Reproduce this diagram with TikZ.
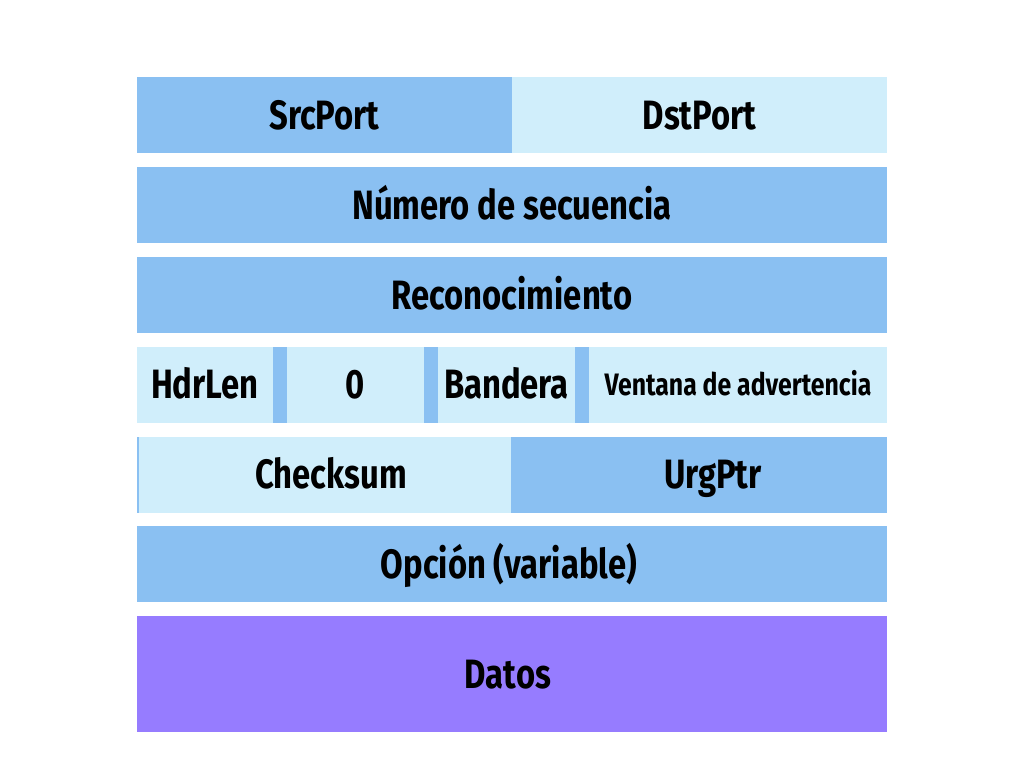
\documentclass[tikz,border=0pt]{standalone}
\usepackage{fontspec}
\setmainfont{Fira Sans}[FakeStretch=0.8]
\definecolor{dk}{HTML}{8AC0F2}
\definecolor{lt}{HTML}{D0EEFB}
\definecolor{pu}{HTML}{967CFF}
\tikzset{
  cell/.style={anchor=north west, inner sep=0pt, outer sep=0pt, minimum height=76pt,
    font=\fontsize{41}{46}\selectfont\bfseries, text=black, text height=28.3pt, text depth=0pt},
  small/.style={font=\fontsize{31}{36}\selectfont\bfseries, text height=21.4pt},
  strip/.style={fill=dk, draw=none}
}
\begin{document}
\begin{tikzpicture}[x=1pt,y=-1pt]
\useasboundingbox[fill=white] (0,0) rectangle (1024,768);
% row 1
\node[cell, fill=dk, minimum width=375pt] (src) at (137,77) {SrcPort};
\node[cell, fill=lt, minimum width=375pt] (dst) at (512,77) {DstPort};
% row 2
\node[cell, fill=dk, minimum width=750pt] (seq) at (137,167) {Número de secuencia};
% row 3
\node[cell, fill=dk, minimum width=750pt] (ack) at (137,257) {Reconocimiento};
% row 4
\node[cell, fill=lt, minimum width=136pt] (hdr) at (137,346.5) {HdrLen};
\fill[strip] (273,346.5) rectangle (287,422.5);
\node[cell, fill=lt, minimum width=137pt] (zero) at (287,346.5) {0};
\fill[strip] (424,346.5) rectangle (438,422.5);
\node[cell, fill=lt, minimum width=137pt] (flag) at (438,346.5) {Bandera};
\fill[strip] (575,346.5) rectangle (589,422.5);
\node[cell, fill=lt, minimum width=298pt, small] (win) at (589,346.5) {Ventana de advertencia};
% row 5
\node[cell, fill=lt, minimum width=374pt] (chk) at (137,436.5) {\hspace*{14pt}Checksum};
\fill[dk] (137,436.5) rectangle (139,512.5);
\node[cell, fill=dk, minimum width=376pt] (urg) at (511,436.5) {\hspace*{28pt}UrgPtr};
% row 6
\node[cell, fill=dk, minimum width=750pt] (opt) at (137,526) {Opción (variable)\hspace*{6pt}};
% row 7
\node[cell, fill=pu, minimum width=750pt, minimum height=116pt] (dat) at (137,616) {Datos\hspace*{8pt}};
\end{tikzpicture}
\end{document}
